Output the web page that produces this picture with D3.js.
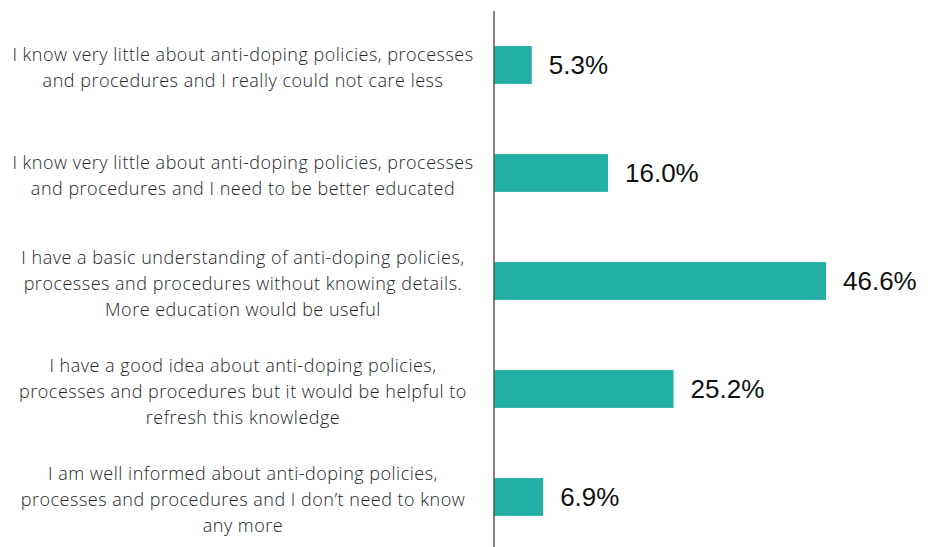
<!DOCTYPE html>
<html>
<head>
<meta charset="utf-8">
<script src="https://cdn.jsdelivr.net/npm/d3@7"></script>
<style>
  html, body { margin: 0; padding: 0; background: #fff; }
  svg { display: block; }
</style>
</head>
<body>
<svg id="chart" width="928" height="547"></svg>
<script>
// Survey responses: self-assessed knowledge of anti-doping policies
const categories = [
  ["I know very little about anti-doping policies, processes", "and procedures and I really could not care less"],
  ["I know very little about anti-doping policies, processes", "and procedures and I need to be better educated"],
  ["I have a basic understanding of anti-doping policies,", "processes and procedures without knowing details.", "More education would be useful"],
  ["I have a good idea about anti-doping policies,", "processes and procedures but it would be helpful to", "refresh this knowledge"],
  ["I am well informed about anti-doping policies,", "processes and procedures and I don\u2019t need to know", "any more"]
];
const values = [5.3, 16.0, 46.6, 25.2, 6.9];

const svg = d3.select("#chart");
const axisX = 494;

const x = d3.scaleLinear().domain([0, 46.6]).range([axisX, 826]);
const y = d3.scaleBand()
  .domain(d3.range(categories.length))
  .range([11, 551])
  .paddingInner(0.65)
  .paddingOuter(0.325);

// bars
svg.append("g").selectAll("rect")
  .data(values)
  .join("rect")
  .attr("x", x(0))
  .attr("y", (d, i) => y(i))
  .attr("width", d => x(d) - x(0))
  .attr("height", y.bandwidth())
  .attr("fill", "#22AFA5");

// vertical category axis
svg.append("line")
  .attr("x1", axisX).attr("x2", axisX)
  .attr("y1", 11).attr("y2", 547)
  .attr("stroke", "#595959")
  .attr("stroke-width", 1.5);

// value labels
svg.append("g").selectAll("text")
  .data(values)
  .join("text")
  .attr("x", d => x(d) + 17)
  .attr("y", (d, i) => y(i) + y.bandwidth() / 2)
  .attr("dy", "0.36em")
  .attr("font-family", "'Liberation Sans', Arial, sans-serif")
  .attr("font-size", 26)
  .attr("fill", "#111")
  .text(d => d.toFixed(1) + "%");

// category labels, centred in the left column
const lineH = 26;
const labels = svg.append("g").selectAll("text")
  .data(categories)
  .join("text")
  .attr("text-anchor", "middle")
  .attr("font-family", "'Open Sans', sans-serif")
  .attr("font-weight", 300)
  .attr("font-size", 18)
  .attr("letter-spacing", 0.5)
  .attr("fill", "#262626");

labels.each(function(lines, i) {
  const cy = y(i) + y.bandwidth() / 2 + 2.5;
  const top = cy - (lines.length - 1) * lineH / 2;
  d3.select(this).selectAll("tspan")
    .data(lines)
    .join("tspan")
    .attr("x", 243)
    .attr("y", (d, j) => top + j * lineH)
    .attr("dy", "0.35em")
    .text(d => d);
});
</script>
</body>
</html>
